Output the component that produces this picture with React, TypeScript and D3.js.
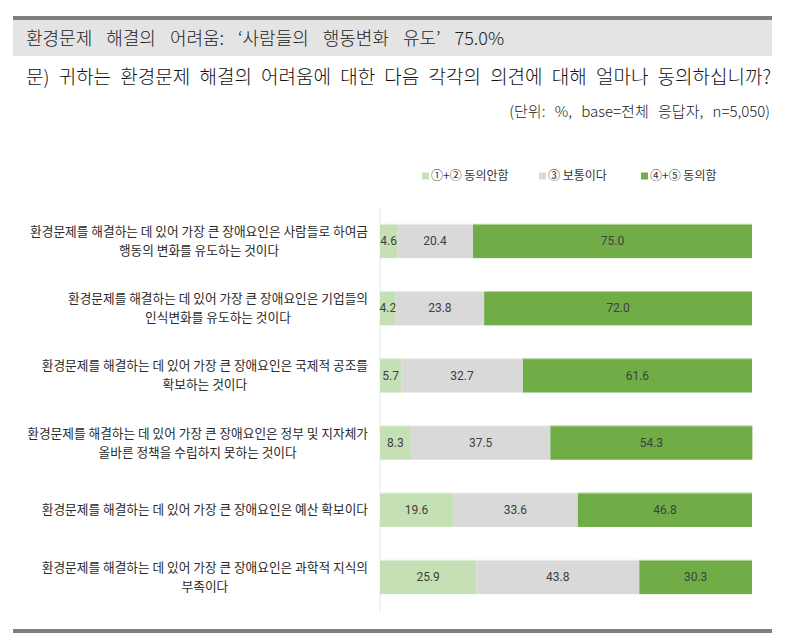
import React, { useEffect, useRef } from "react";
import * as d3 from "d3";

const categories = [
  ["환경문제를 해결하는 데 있어 가장 큰 장애요인은 사람들로 하여금", "행동의 변화를 유도하는 것이다"],
  ["환경문제를 해결하는 데 있어 가장 큰 장애요인은 기업들의", "인식변화를 유도하는 것이다"],
  ["환경문제를 해결하는 데 있어 가장 큰 장애요인은 국제적 공조를", "확보하는 것이다"],
  ["환경문제를 해결하는 데 있어 가장 큰 장애요인은 정부 및 지자체가", "올바른 정책을 수립하지 못하는 것이다"],
  ["환경문제를 해결하는 데 있어 가장 큰 장애요인은 예산 확보이다"],
  ["환경문제를 해결하는 데 있어 가장 큰 장애요인은 과학적 지식의", "부족이다"],
];

const disagree = [4.6, 4.2, 5.7, 8.3, 19.6, 25.9];
const neutral = [20.4, 23.8, 32.7, 37.5, 33.6, 43.8];
const agree = [75.0, 72.0, 61.6, 54.3, 46.8, 30.3];

const seriesNames = ["①+② 동의안함", "③ 보통이다", "④+⑤ 동의함"];
const seriesColors = ["#c5e0b4", "#d9d9d9", "#70ad47"];

const title = "환경문제 해결의 어려움: ‘사람들의 행동변화 유도’ 75.0%";
const question = "문) 귀하는 환경문제 해결의 어려움에 대한 다음 각각의 의견에 대해 얼마나 동의하십니까?";
const unitNote = "(단위: %, base=전체 응답자, n=5,050)";

const W = 785;
const H = 643;
const FONT = "'Noto Sans CJK KR', 'Noto Sans', sans-serif";

const App = () => {
  const svgRef = useRef<SVGSVGElement>(null);

  useEffect(() => {
    const svg = d3.select(svgRef.current);
    svg.selectAll("*").remove();

    // header
    svg.append("rect").attr("x", 13).attr("y", 16).attr("width", 759).attr("height", 4).attr("fill", "#7f7f7f");
    svg.append("rect").attr("x", 13).attr("y", 20).attr("width", 759).attr("height", 36).attr("fill", "#e4e4e4");
    svg.append("text").attr("x", 26).attr("y", 45).attr("font-size", 18).attr("font-weight", 300)
      .attr("word-spacing", 10).attr("fill", "#222").attr("font-family", FONT).text(title);
    svg.append("text").attr("x", 26).attr("y", 84).attr("font-size", 19).attr("font-weight", 300)
      .attr("word-spacing", 5).attr("fill", "#111").attr("font-family", FONT).text(question);
    svg.append("text").attr("x", 770).attr("y", 117).attr("font-size", 15).attr("font-weight", 300)
      .attr("word-spacing", 6).attr("text-anchor", "end").attr("fill", "#222").attr("font-family", FONT).text(unitNote);

    // bottom rule
    svg.append("rect").attr("x", 13).attr("y", 629).attr("width", 759).attr("height", 4).attr("fill", "#7f7f7f");

    const x = d3.scaleLinear().domain([0, 100]).range([380, 752]);
    const y = d3.scaleBand<number>().domain(d3.range(categories.length)).range([207.4, 610.6]).paddingInner(0.49).paddingOuter(0.245);

    const rows = categories.map((c, i) => ({ i, disagree: disagree[i], neutral: neutral[i], agree: agree[i] }));
    const stack = d3.stack<any>().keys(["disagree", "neutral", "agree"]);
    const layers = stack(rows);

    // axis line
    svg.append("line").attr("x1", x(0)).attr("x2", x(0)).attr("y1", 207).attr("y2", 612)
      .attr("stroke", "#e6e6e6").attr("stroke-width", 1);

    layers.forEach((layer, k) => {
      const g = svg.append("g");
      g.selectAll("rect").data(layer).enter().append("rect")
        .attr("x", (d) => x(d[0]))
        .attr("y", (d) => y(d.data.i)!)
        .attr("width", (d) => x(d[1]) - x(d[0]))
        .attr("height", y.bandwidth())
        .attr("fill", seriesColors[k]);
      g.selectAll("line").data(layer).enter().append("line")
        .attr("x1", (d) => x(d[0])).attr("x2", (d) => x(d[1]))
        .attr("y1", (d) => y(d.data.i)! + 0.5).attr("y2", (d) => y(d.data.i)! + 0.5)
        .attr("stroke", "#ffffff").attr("stroke-opacity", 0.5);
      g.selectAll("text").data(layer).enter().append("text")
        .attr("x", (d) => (x(d[0]) + x(d[1])) / 2)
        .attr("y", (d) => y(d.data.i)! + y.bandwidth() / 2)
        .attr("dy", "0.35em")
        .attr("text-anchor", "middle")
        .attr("font-size", 12)
        .attr("font-family", "Roboto, 'Noto Sans', sans-serif")
        .attr("fill", "#404040")
        .text((d) => (d[1] - d[0]).toFixed(1));
    });

    // category labels: lines centred on each other, block right-aligned
    const labelRight = 368;
    categories.forEach((lines, i) => {
      const cy = y(i)! + y.bandwidth() / 2;
      const t = svg.append("text").attr("font-size", 12.7).attr("font-family", FONT)
        .attr("fill", "#2a2a2a").attr("text-anchor", "middle");
      const lh = 19;
      const spans = lines.map((ln, j) =>
        t.append("tspan").attr("y", cy + (j - (lines.length - 1) / 2) * lh).attr("dy", "0.35em").text(ln)
      );
      const maxW = d3.max(spans, (s) => (s.node() as SVGTSpanElement).getComputedTextLength()) || 0;
      spans.forEach((s) => s.attr("x", labelRight - maxW / 2));
    });

    // legend
    const legendX = [422, 539, 641];
    seriesNames.forEach((n, k) => {
      svg.append("rect").attr("x", legendX[k]).attr("y", 172.5).attr("width", 7).attr("height", 7).attr("fill", seriesColors[k]);
      svg.append("text").attr("x", legendX[k] + 9).attr("y", 176).attr("dy", "0.35em").attr("font-size", 12)
        .attr("font-family", FONT).attr("fill", "#333").text(n);
    });
  }, []);

  return <svg ref={svgRef} width={W} height={H} style={{ position: "absolute", left: 0, top: 0 }}></svg>;
};

export default App;
